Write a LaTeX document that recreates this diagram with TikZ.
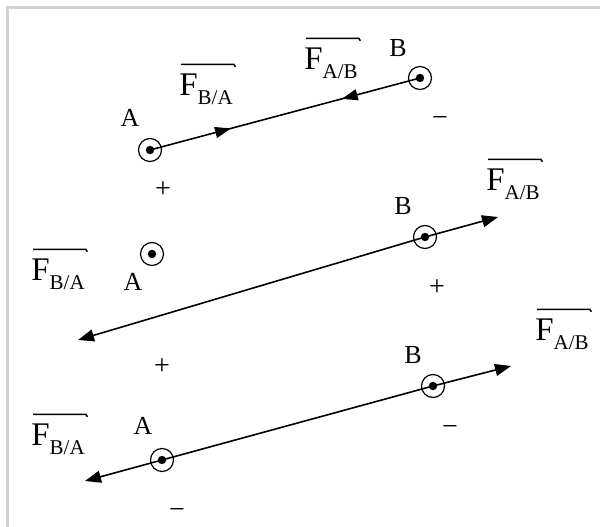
\documentclass[tikz,border=0pt]{standalone}
\usepackage{fontspec}
\setmainfont{Liberation Serif}
\usetikzlibrary{arrows.meta,decorations.markings}
\tikzset{
  charge/.style={circle, draw, line width=1.2pt, minimum size=23pt, inner sep=0pt,
    path picture={\fill (path picture bounding box.center) circle (4.2pt);}},
  ptlabel/.style={font=\fontsize{26}{26}\selectfont, inner sep=0pt},
  sign/.style={font=\fontsize{28}{28}\selectfont, inner sep=0pt},
  force/.style={font=\fontsize{33}{33}\selectfont, inner sep=0pt},
  wire/.style={line width=1.6pt},
  tip/.style={-{Triangle[length=16pt,width=12pt]}},
  bar/.style={line width=1.5pt}
}
\newcommand{\Fsub}[1]{F\raisebox{-0.28em}{\fontsize{21}{21}\selectfont #1}}
\newcommand{\fbar}[1]{\draw[bar] ([xshift=2pt,yshift=9pt]#1.north west) -- ([xshift=1pt,yshift=9pt]#1.north east) -- ++(1.5pt,-2.5pt);}
\begin{document}
\begin{tikzpicture}[x=1pt,y=-1pt]
\useasboundingbox (0,0) rectangle (600,527);
% frame
\draw[line width=3pt, gray!35] (7.5,527) -- (7.5,7.5) -- (600,7.5);

% ---------- row 1 ----------
\node[charge] (A1) at (150,150) {};
\node[charge] (B1) at (420,78) {};
\draw[wire, decoration={markings,
   mark=at position 0.3 with {\arrow{Triangle[length=16pt,width=11pt]}},
   mark=at position 0.71 with {\arrowreversed{Triangle[length=16pt,width=11pt]}}},
   postaction=decorate] (A1.center) -- (B1.center);
\node[ptlabel] (lA1) at (130,118) {A};
\node[ptlabel] (lB1) at (398,48) {B};
\node[force] (f1) at (206,89) {\Fsub{B/A}};
\node[force] (g1) at (331,63) {\Fsub{A/B}};
\fbar{f1}
\fbar{g1}
\node[sign] (p1) at (163,190) {+};
\node[sign] (m1) at (440,122) {−};

% ---------- row 2 ----------
\node[charge] (A2) at (152,254) {};
\node[charge] (B2) at (425,237) {};
\coordinate (L2) at (78,340);
\coordinate (R2) at (498,217);
\draw[wire, tip] (B2.center) -- (L2);
\draw[wire, tip] (B2.center) -- (R2);
\node[ptlabel] (lA2) at (133,282) {A};
\node[ptlabel] (lB2) at (403,206) {B};
\node[force] (f2) at (58,274) {\Fsub{B/A}};
\node[force] (g2) at (513,184) {\Fsub{A/B}};
\fbar{f2}
\fbar{g2}
\node[sign] (p2) at (437,288) {+};

% ---------- row 3 ----------
\node[charge] (A3) at (162,460) {};
\node[charge] (B3) at (433,386) {};
\coordinate (L3) at (85,481);
\coordinate (R3) at (511,366);
\draw[wire, tip] (A3.center) -- (L3);
\draw[wire, tip] (B3.center) -- (R3);
\draw[wire] (A3.center) -- (B3.center);
\node[ptlabel] (lA3) at (143,426) {A};
\node[ptlabel] (lB3) at (413,355) {B};
\node[force] (f3) at (58,439) {\Fsub{B/A}};
\node[force] (g3) at (562,334) {\Fsub{A/B}};
\fbar{f3}
\fbar{g3}
\node[sign] (p3) at (162,367) {+};
\node[sign] (m3) at (450,430) {−};
\node[sign] (m4) at (177,513) {−};
\end{tikzpicture}
\end{document}
